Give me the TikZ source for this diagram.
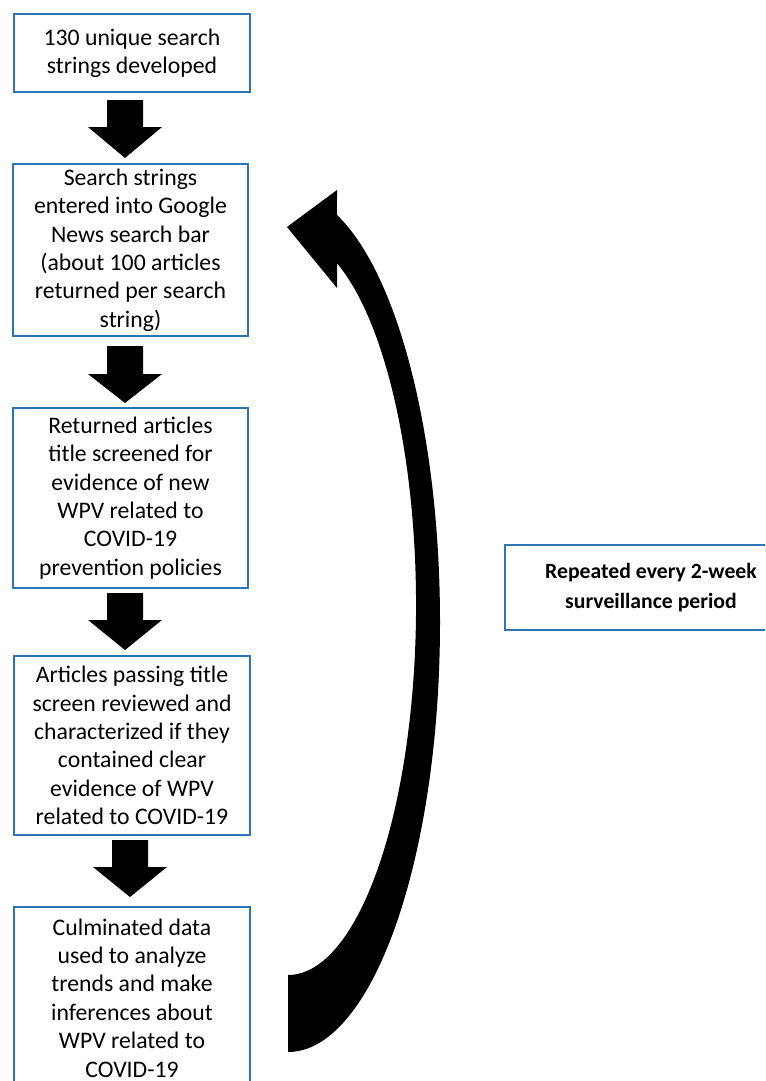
\documentclass[tikz,border=0pt]{standalone}
\usepackage{fontspec}
\setmainfont{Carlito}
\definecolor{boxblue}{RGB}{46,117,182}
\newcommand\blockarr[4]{%
  \fill[black] (#1-18,#2) -- (#1+18,#2) -- (#1+18,#3) -- (#1+37,#3) -- (#1,#4) -- (#1-37,#3) -- (#1-18,#3) -- cycle;}
\begin{document}
\begin{tikzpicture}[x=0.75pt,y=-0.75pt,
  box/.style={draw=boxblue,line width=1.5pt,fill=white,align=center,
    font=\fontsize{17.8}{21.3}\selectfont,inner sep=0pt}]
\useasboundingbox (0,0) rectangle (765,1081);
\clip (0,0) rectangle (765,1081);
\fill[white] (0,0) rectangle (765,1081);

\node[box,minimum width=177pt,minimum height=58.5pt] (b1) at (132,53)
  {130 unique search\\strings developed};
\node[box,minimum width=176.25pt,minimum height=129pt] (b2) at (130.5,250)
  {Search strings\\entered into Google\\News search bar\\(about 100 articles\\returned per search\\string)};
\node[box,minimum width=176.25pt,minimum height=135pt] (b3) at (130.5,498)
  {Returned articles\\title screened for\\evidence of new\\WPV related to\\COVID-19\\prevention policies};
\node[box,minimum width=177pt,minimum height=134.25pt] (b4) at (132,745.5)
  {Articles passing title\\screen reviewed and\\characterized if they\\contained clear\\evidence of WPV\\related to COVID-19};
\node[box,minimum width=177pt,minimum height=136.5pt] (b5) at (132,998)
  {Culminated data\\used to analyze\\trends and make\\inferences about\\WPV related to\\COVID-19};
\node[box,minimum width=219pt,minimum height=63.75pt,font=\fontsize{16.3}{23}\selectfont\bfseries] (r) at (651,587.5)
  {Repeated every 2-week\\surveillance period};

\blockarr{125}{100}{127}{158}
\blockarr{125}{346}{374}{403}
\blockarr{125}{593}{620}{650}
\blockarr{130}{840}{867}{897}

\fill[black] (288,1052) arc[start angle=90, end angle=-71.2, x radius=152, y radius=430]
  -- (337,190) -- (287,227) -- (337,288) -- (337,263.2)
  arc[start angle=-67.5, end angle=90, x radius=128, y radius=370] -- cycle;
\end{tikzpicture}
\end{document}
